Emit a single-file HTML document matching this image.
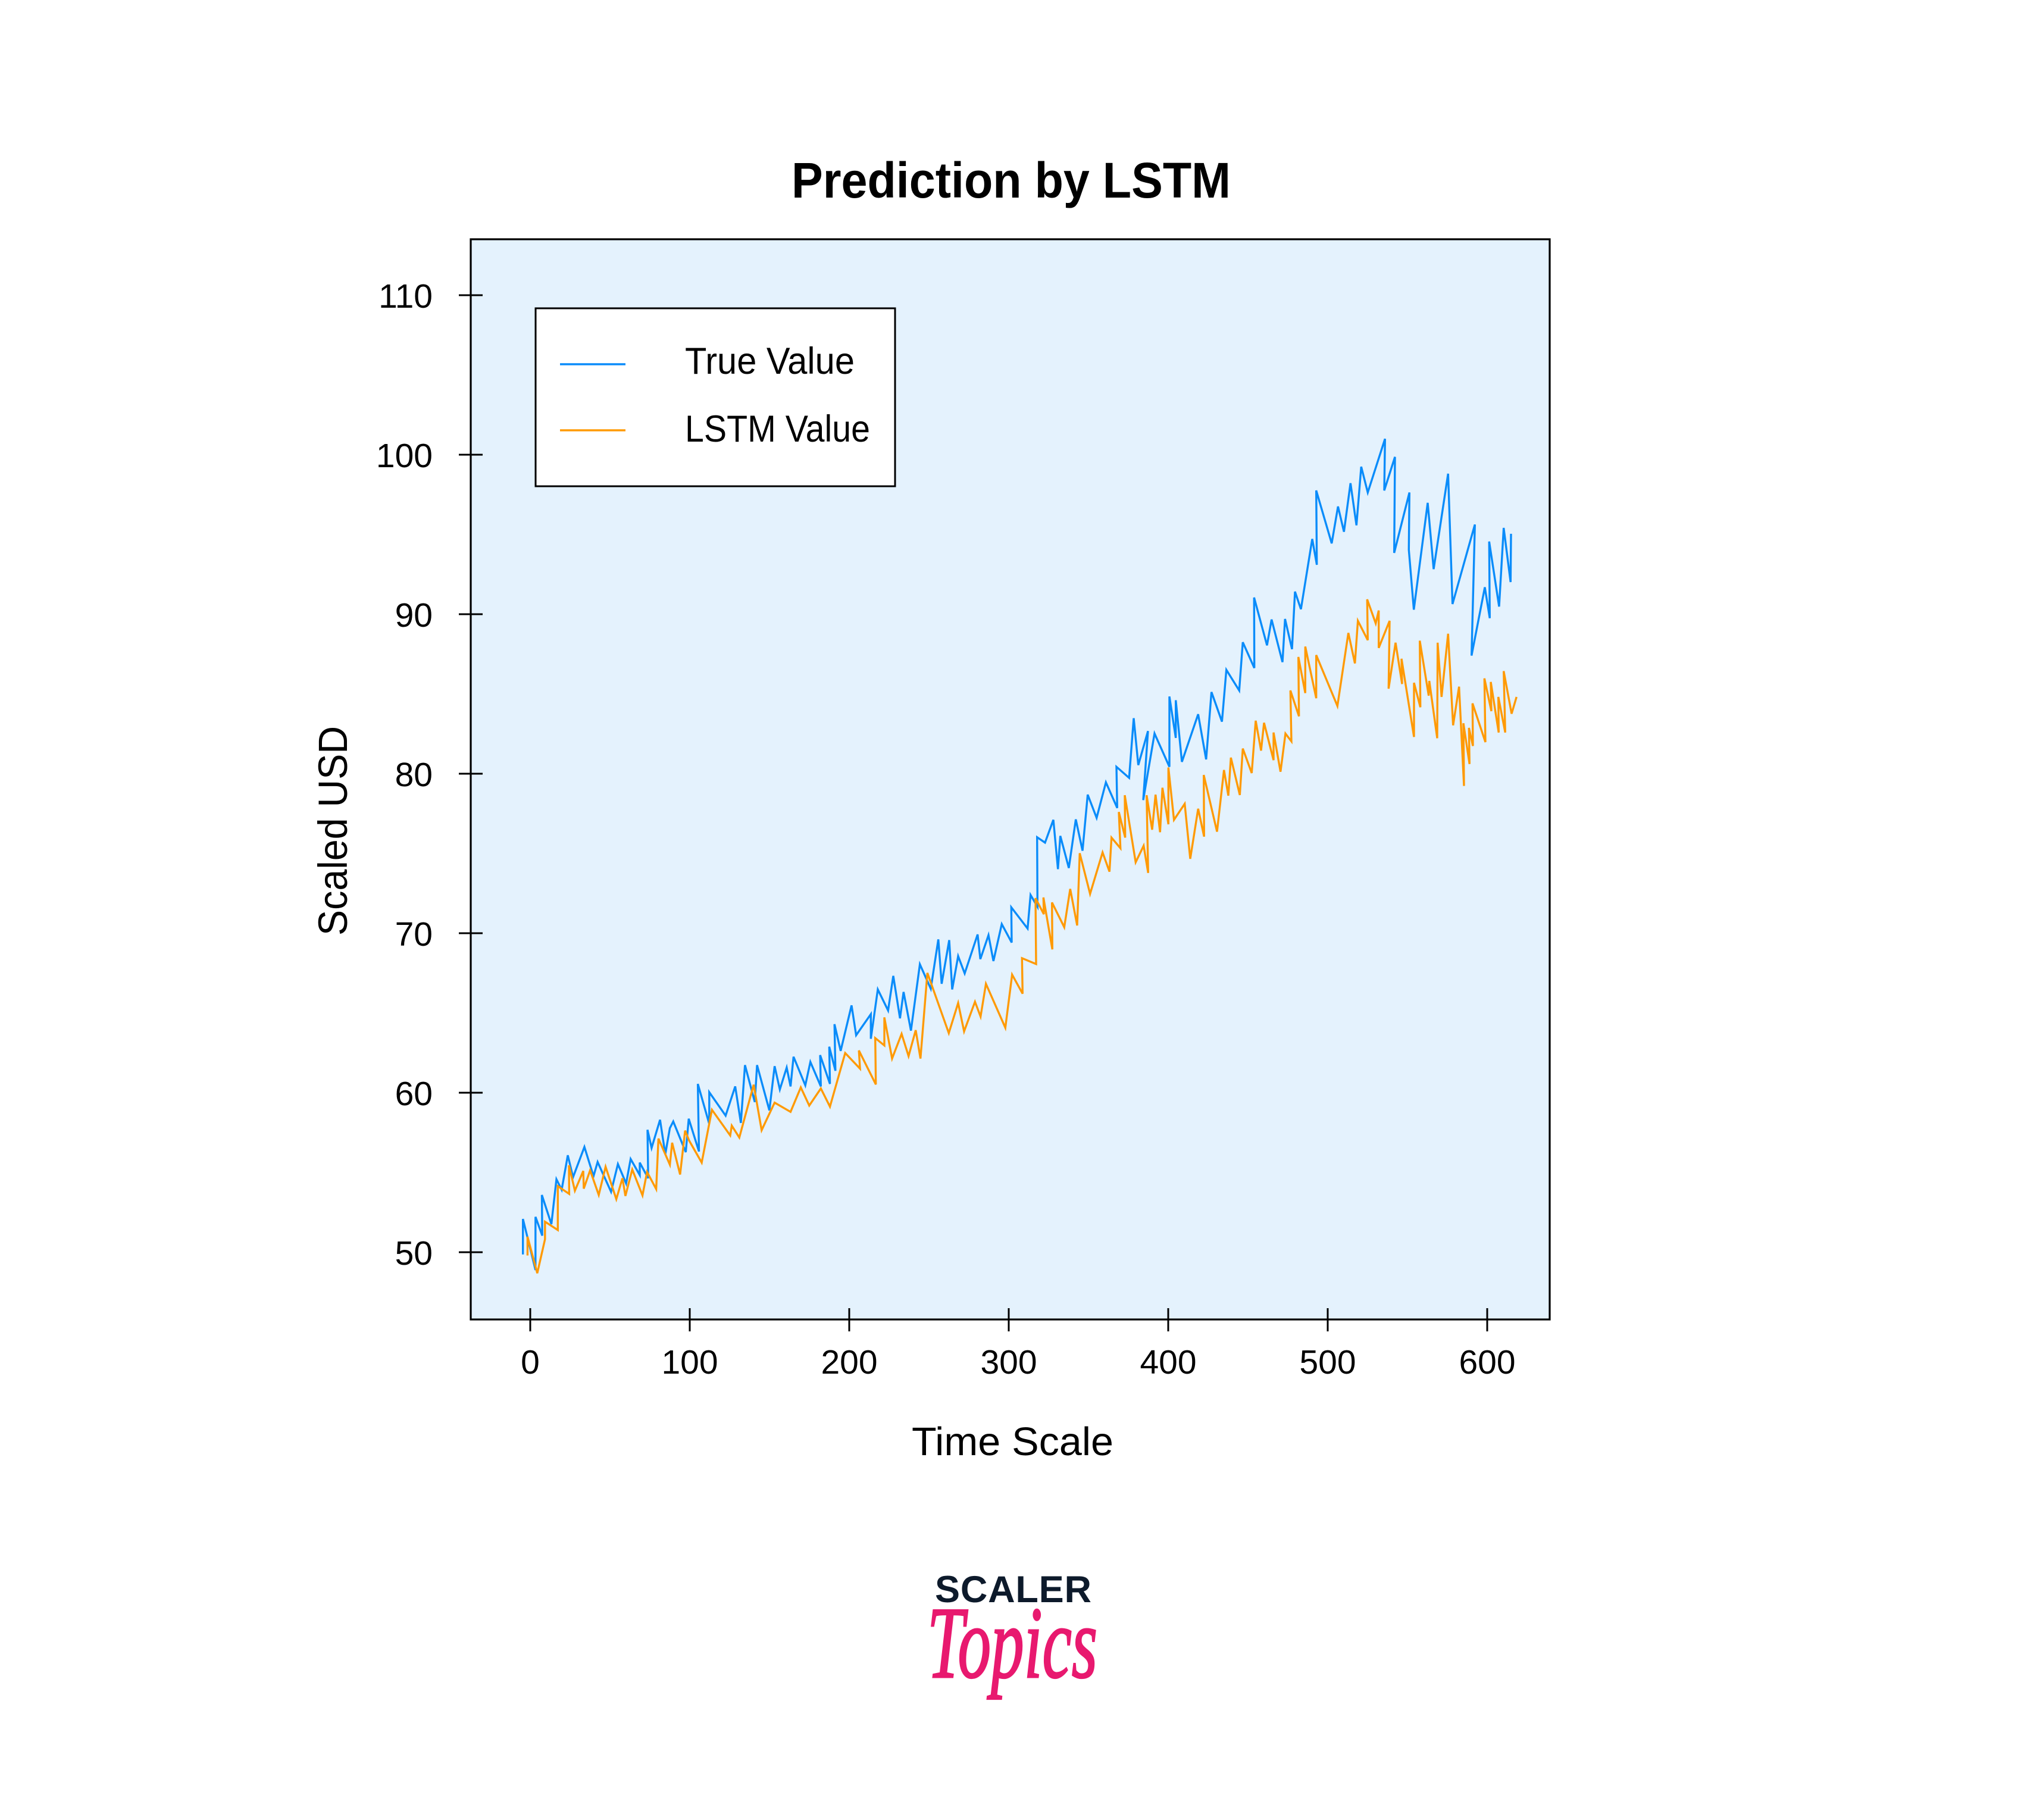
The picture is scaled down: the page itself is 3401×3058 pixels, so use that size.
<!DOCTYPE html>
<html>
<head>
<meta charset="utf-8">
<style>
html,body{margin:0;padding:0;background:#ffffff;}
body{width:3401px;height:3058px;overflow:hidden;}
svg{display:block;}
text{font-family:"Liberation Sans",sans-serif;fill:#000;}
</style>
</head>
<body>
<svg width="3401" height="3058" viewBox="0 0 3401 3058" xmlns="http://www.w3.org/2000/svg">
<rect x="0" y="0" width="3401" height="3058" fill="#ffffff"/>

<!-- Title -->
<text x="1330" y="332" font-size="84" font-weight="bold" textLength="738" lengthAdjust="spacingAndGlyphs">Prediction by LSTM</text>

<!-- Plot area -->
<rect x="791" y="402" width="1813" height="1815" fill="#e4f2fd"/>

<!-- Series -->
<g fill="none" stroke-width="3.4" stroke-linejoin="miter" stroke-miterlimit="4">
<polyline stroke="#0a8cfa" points="878.7,2107.7 878.7,2048.1 899.8,2134.0 899.8,2044.6 911.2,2076.2 910.5,2007.8 926.5,2056.9 935.0,1981.5 943.8,1999.0 954.1,1941.1 962.9,1978.0 982.0,1927.1 997.3,1976.2 1004.2,1952.4 1026.8,2002.5 1038.3,1955.9 1052.1,1988.5 1059.7,1947.4 1075.0,1974.4 1075.0,1953.4 1089.2,1979.7 1088.0,1898.3 1094.9,1928.8 1109.1,1881.5 1117.9,1939.4 1125.6,1895.5 1131.3,1884.3 1152.3,1935.9 1157.3,1879.7 1174.5,1934.8 1172.6,1821.2 1191.8,1888.5 1191.8,1835.2 1219.3,1874.5 1235.4,1825.4 1244.9,1886.8 1251.8,1789.6 1268.3,1851.7 1272.1,1789.6 1292.8,1865.7 1301.6,1791.4 1310.4,1830.6 1321.9,1793.8 1328.4,1825.4 1333.4,1775.6 1353.2,1823.6 1361.7,1784.3 1379.3,1825.4 1378.1,1772.8 1394.6,1821.2 1393.4,1758.7 1403.8,1799.1 1402.2,1720.9 1412.6,1765.7 1430.9,1689.3 1438.6,1739.4 1463.3,1704.0 1463.3,1745.4 1475.0,1662.5 1492.3,1697.8 1501.0,1639.7 1512.3,1711.0 1518.3,1666.7 1530.7,1731.7 1545.7,1620.2 1564.0,1661.3 1576.7,1578.4 1582.3,1653.0 1595.0,1579.6 1600.0,1662.5 1610.0,1606.5 1621.0,1635.6 1642.7,1570.1 1647.3,1611.5 1661.0,1571.3 1669.3,1614.8 1683.3,1552.7 1700.0,1583.7 1699.3,1524.5 1726.7,1560.1 1731.7,1503.7 1743.3,1523.6 1742.7,1406.7 1756.0,1415.8 1770,1377.5 1777.7,1460.4 1781.7,1404.5 1796.0,1458.4 1807.7,1376.7 1819.0,1429.4 1827.7,1335.2 1842.7,1374.2 1858.3,1314.5 1877.3,1357.6 1876.0,1288.4 1897.3,1307.0 1905.0,1206.7 1912.7,1285.5 1929.0,1228.3 1921.0,1344.4 1940.0,1232.4 1965.0,1288.4 1965.0,1170.2 1975.7,1239.9 1975.7,1176.5 1986.0,1280.1 2013.3,1200.1 2026.7,1276.0 2035.7,1162.8 2053.3,1212.5 2060.7,1125.5 2082.3,1160.2 2088.3,1079.1 2107.7,1122.4 2107.3,1004.0 2129.0,1084.3 2136.7,1040.9 2155.0,1112.5 2159.3,1040.0 2171.0,1090.8 2176.0,994.1 2186.0,1023.6 2205.0,905.6 2212.7,949.0 2211.7,824.1 2237.7,913.0 2248.3,851.0 2258.3,893.5 2269.3,811.9 2279.3,882.6 2287.3,784.2 2298.3,827.5 2327.3,737.3 2326.0,824.1 2344.0,767.7 2342.7,929.0 2368.3,827.5 2367.3,923.8 2375.7,1024.4 2399.0,844.9 2409.0,956.3 2433.3,795.9 2440.7,1014.9 2478.3,881.3 2472.7,1101.6 2495.0,986.7 2503.3,1038.7 2502.3,909.9 2519.0,1019.2 2526.7,887.0 2538.3,978.0 2539.0,896.9"/>
<polyline stroke="#ff9a05" points="886.4,2109.5 886.4,2077.9 902.8,2139.3 915.8,2082.1 915.8,2052.7 937.3,2066.7 937.3,1993.0 956.4,2006.0 956.0,1958.0 966.0,2000.7 980.1,1967.4 980.9,1997.2 991.6,1966.4 1006.1,2007.8 1017.6,1960.4 1035.6,2014.8 1045.9,1979.7 1050.9,2009.5 1062.4,1965.0 1079.6,2008.5 1087.3,1969.2 1102.6,1997.9 1106.4,1913.1 1125.6,1956.9 1129.4,1920.1 1142.8,1973.4 1151.2,1899.7 1158.1,1916.6 1179.1,1953.4 1196.3,1864.7 1227.0,1907.8 1229.6,1891.3 1242.3,1911.3 1266.4,1822.6 1279.8,1899.0 1301.6,1852.7 1328.4,1868.2 1345.6,1827.1 1359.8,1857.6 1379.3,1828.9 1394.6,1859.4 1420.2,1769.3 1445.1,1795.6 1443.2,1765.0 1471.7,1822.1 1470.7,1744.2 1486.0,1756.6 1486.0,1709.4 1499.0,1778.6 1515.0,1737.1 1526.7,1774.5 1538.7,1730.9 1546.7,1778.6 1558.3,1634.7 1594.3,1735.9 1610.0,1685.3 1620.0,1733.0 1638.3,1683.2 1647.7,1708.1 1656.7,1653.0 1689.3,1726.8 1700.7,1637.6 1718.3,1669.6 1717.3,1609.9 1741.0,1619.8 1740.0,1509.1 1754.0,1536.1 1753.3,1507.9 1768.3,1595.2 1767.7,1516.4 1788.3,1557.9 1798.3,1493.6 1810.0,1555.0 1814.3,1433.5 1831.7,1501.9 1852.7,1432.3 1864.3,1464.6 1867.7,1407.4 1882.7,1425.2 1880.0,1364.3 1890.7,1407.4 1890.0,1336.1 1908.3,1448.8 1921.7,1421.1 1929.3,1466.7 1926.7,1336.1 1936.0,1394.1 1941.7,1335.2 1949.3,1398.3 1953.3,1323.6 1963.3,1385.0 1963.3,1289.6 1972.7,1377.5 1990.7,1350.6 2000.0,1443.0 2013.3,1358.9 2023.3,1405.7 2022.7,1302.1 2045.0,1397.4 2056.7,1293.8 2064.0,1336.9 2068.3,1273.0 2083.3,1335.8 2088.3,1257.7 2103.3,1298.9 2110.0,1210.9 2119.0,1261.2 2124.0,1214.4 2140.0,1277.2 2140.0,1230.8 2151.7,1296.7 2160.0,1232.6 2170.0,1245.6 2168.3,1160.2 2182.7,1203.5 2181.7,1103.8 2193.3,1164.5 2193.3,1086.4 2211.7,1173.2 2211.7,1100.7 2247.3,1186.2 2265.7,1063.5 2276.7,1114.6 2281.7,1043.1 2298.3,1075.6 2297.3,1007.1 2311.7,1047.4 2316.7,1025.7 2316.7,1088.6 2335.0,1043.1 2333.3,1157.1 2345.0,1079.9 2356.0,1149.3 2355.0,1106.8 2376.0,1238.2 2376.0,1147.2 2386.7,1188.3 2385.7,1076.5 2400.7,1168.8 2401.7,1144.1 2415.0,1240.4 2415.7,1079.9 2422.3,1171.0 2433.3,1064.8 2441.7,1218.7 2451.7,1153.7 2460.0,1320.6 2459.0,1215.2 2469.3,1283.7 2468.3,1223.0 2475.0,1253.4 2474.3,1181.8 2496.0,1246.9 2494.3,1139.8 2506.0,1194.9 2505.0,1145.8 2518.3,1230.8 2517.7,1171.0 2529.3,1230.8 2526.7,1127.6 2540.0,1199.2 2548.3,1171.0"/>
</g>

<!-- Legend -->
<rect x="900" y="518" width="604" height="299" fill="#ffffff" stroke="#000" stroke-width="3"/>
<line x1="941" y1="612" x2="1051" y2="612" stroke="#0a8cfa" stroke-width="3.4"/>
<line x1="941" y1="723" x2="1051" y2="723" stroke="#ff9a05" stroke-width="3.4"/>
<text x="1151" y="628" font-size="63" textLength="285" lengthAdjust="spacingAndGlyphs">True Value</text>
<text x="1151" y="742" font-size="63" textLength="311" lengthAdjust="spacingAndGlyphs">LSTM Value</text>

<!-- Axes frame -->
<rect x="791" y="402" width="1813" height="1815" fill="none" stroke="#000" stroke-width="3.2"/>

<!-- Y ticks -->
<g stroke="#000" stroke-width="3">
<line x1="771" y1="496" x2="811" y2="496"/>
<line x1="771" y1="764" x2="811" y2="764"/>
<line x1="771" y1="1032" x2="811" y2="1032"/>
<line x1="771" y1="1300" x2="811" y2="1300"/>
<line x1="771" y1="1568" x2="811" y2="1568"/>
<line x1="771" y1="1836" x2="811" y2="1836"/>
<line x1="771" y1="2104" x2="811" y2="2104"/>
</g>
<g font-size="57" text-anchor="end">
<text x="727" y="517">110</text>
<text x="727" y="785">100</text>
<text x="727" y="1053">90</text>
<text x="727" y="1321">80</text>
<text x="727" y="1589">70</text>
<text x="727" y="1857">60</text>
<text x="727" y="2125">50</text>
</g>

<!-- X ticks -->
<g stroke="#000" stroke-width="3">
<line x1="891" y1="2198" x2="891" y2="2237"/>
<line x1="1159" y1="2198" x2="1159" y2="2237"/>
<line x1="1427" y1="2198" x2="1427" y2="2237"/>
<line x1="1695" y1="2198" x2="1695" y2="2237"/>
<line x1="1963" y1="2198" x2="1963" y2="2237"/>
<line x1="2231" y1="2198" x2="2231" y2="2237"/>
<line x1="2499" y1="2198" x2="2499" y2="2237"/>
</g>
<g font-size="57" text-anchor="middle">
<text x="891" y="2308">0</text>
<text x="1159" y="2308">100</text>
<text x="1427" y="2308">200</text>
<text x="1695" y="2308">300</text>
<text x="1963" y="2308">400</text>
<text x="2231" y="2308">500</text>
<text x="2499" y="2308">600</text>
</g>

<!-- Axis labels -->
<text x="1532" y="2445" font-size="67" textLength="339" lengthAdjust="spacingAndGlyphs">Time Scale</text>
<text transform="translate(583,1572) rotate(-90)" x="0" y="0" font-size="69" textLength="352" lengthAdjust="spacingAndGlyphs">Scaled USD</text>

<!-- Logo -->
<text x="1571" y="2692" font-size="63" font-weight="bold" textLength="263" lengthAdjust="spacing" style="fill:#0d1a2b">SCALER</text>
<text x="1558" y="2818" font-size="172" font-style="italic" textLength="286" lengthAdjust="spacingAndGlyphs" style="font-family:'Liberation Serif',serif;fill:#e8196f;stroke:#e8196f;stroke-width:3">Topics</text>
</svg>
</body>
</html>
